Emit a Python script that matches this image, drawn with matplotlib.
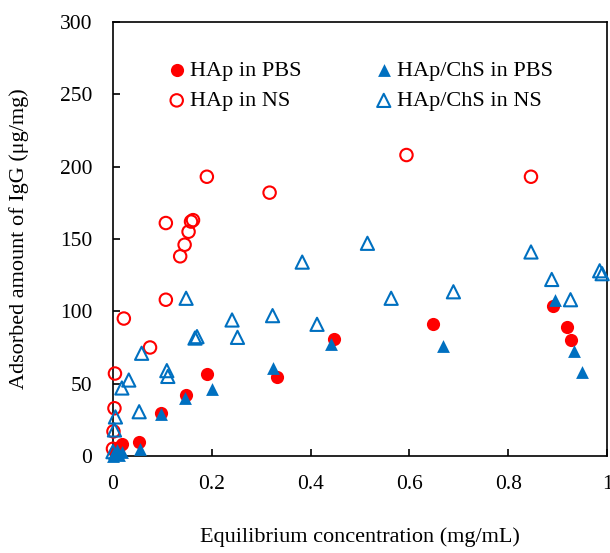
import numpy as np
import matplotlib.pyplot as plt

plt.rcParams['font.family'] = ['Liberation Serif', 'DejaVu Serif']

# HAp in PBS (实心红圆)
hap_pbs_x = [0.005, 0.012, 0.018, 0.053, 0.097, 0.147, 0.19, 0.332, 0.447, 0.648, 0.89, 0.918, 0.927]
hap_pbs_y = [3, 6, 8.5, 10, 30, 42.5, 57, 54.5, 81, 91.5, 104, 89, 80]

# HAp in NS (空心红圆)
hap_ns_x = [0.0, 0.001, 0.003, 0.004, 0.022, 0.075, 0.107, 0.107, 0.136, 0.145, 0.153,
            0.158, 0.162, 0.19, 0.317, 0.594, 0.846]
hap_ns_y = [5, 17, 33, 57, 95, 75, 108, 161, 138, 146, 155, 162, 163, 193, 182, 208, 193]

# HAp/ChS in PBS (实心蓝三角)
chs_pbs_x = [0.0, 0.003, 0.008, 0.012, 0.018, 0.055, 0.097, 0.146, 0.2, 0.324, 0.441,
             0.668, 0.895, 0.934, 0.949]
chs_pbs_y = [0, 2, 4, 1, 3, 4.5, 29, 40, 46, 60.5, 77.5, 76, 108, 72.5, 58]

# HAp/ChS in NS (空心蓝三角)
chs_ns_x = [0.0, 0.003, 0.005, 0.018, 0.032, 0.053, 0.058, 0.109, 0.111, 0.148, 0.166,
            0.17, 0.241, 0.252, 0.323, 0.383, 0.413, 0.515, 0.563, 0.689, 0.846, 0.888,
            0.926, 0.985, 0.99]
chs_ns_y = [3, 18, 27, 47, 52.5, 30.6, 71, 59, 55, 109, 81.5, 82.5, 94, 82, 97, 134, 91,
            147, 109, 113.5, 141, 122, 108, 128, 126]

red = '#FF0000'
blue = '#0070C0'

fig = plt.figure(figsize=(6.1, 5.53), dpi=100)
ax = fig.add_axes([0.1852, 0.1754, 0.81, 0.785])

ax.scatter(hap_pbs_x, hap_pbs_y, s=90, marker='o', color=red, linewidths=0,
           label='HAp in PBS', zorder=3, clip_on=False)
ax.scatter(hap_ns_x, hap_ns_y, s=80, marker='o', facecolors='none', edgecolors=red,
           linewidths=1.5, label='HAp in NS', zorder=3, clip_on=False)
ax.scatter(chs_pbs_x, chs_pbs_y, s=85, marker='^', color=blue, linewidths=0,
           label='HAp/ChS in PBS', zorder=3, clip_on=False)
ax.scatter(chs_ns_x, chs_ns_y, s=90, marker='^', facecolors='none', edgecolors=blue,
           linewidths=1.5, label='HAp/ChS in NS', zorder=3, clip_on=False)

ax.set_xlim(0, 1)
ax.set_ylim(0, 300)
ax.set_xticks([0, 0.2, 0.4, 0.6, 0.8, 1])
ax.set_xticklabels(['0', '0.2', '0.4', '0.6', '0.8', '1'])
ax.set_yticks(np.arange(0, 301, 50))
ax.tick_params(direction='in', length=5, width=1.2, labelsize=15.5)
ax.tick_params(axis='x', pad=14)
ax.tick_params(axis='y', pad=15)

for sp in ax.spines.values():
    sp.set_linewidth(1.2)

ax.set_xlabel('Equilibrium concentration (mg/mL)', fontsize=16)
ax.set_ylabel('Adsorbed amount of IgG (μg/mg)', fontsize=16)
ax.xaxis.set_label_coords(0.5, -0.164)
ax.yaxis.set_label_coords(-0.17, 0.5)

ax.legend(ncol=2, loc='upper left', bbox_to_anchor=(0.111, 0.912), frameon=False,
          fontsize=16, handletextpad=0.2, columnspacing=3.3, labelspacing=0.45,
          handlelength=0.8, borderaxespad=0, borderpad=0)

fig.savefig('out.png', dpi=100)
